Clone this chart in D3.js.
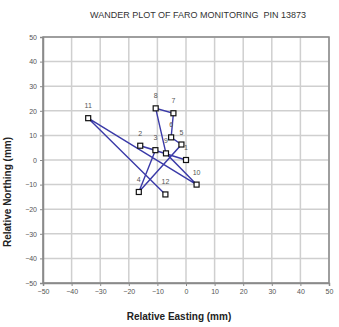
<!DOCTYPE html>
<html>
<head>
<meta charset="utf-8">
<script src="https://cdn.jsdelivr.net/npm/d3@7"></script>
<style>
  body { margin: 0; background: #fff; }
  text { font-family: "Liberation Sans", Arial, sans-serif; }
</style>
</head>
<body>
<div id="chart"></div>
<script>
// readings in order, label = reading number
const pointLabels = ["1", "2", "3", "4", "5", "6", "7", "8", "9", "10", "11", "12"];
const eastings = [0, -16, -10.7, -16.5, -1.6, -5.2, -4.4, -10.6, -7, 3.7, -34.2, -7.2];
const northings = [0, 5.8, 4, -13, 6.3, 9.2, 19, 21, 2.7, -10, 17, -14];
const tickValues = [-50, -40, -30, -20, -10, 0, 10, 20, 30, 40, 50];

const width = 339, height = 327;
const margin = { left: 43, right: 10, top: 37, bottom: 44 };

const svg = d3.select("#chart").append("svg")
    .attr("width", width)
    .attr("height", height);

const x = d3.scaleLinear().domain([-50, 50]).range([margin.left, width - margin.right]);
const y = d3.scaleLinear().domain([-50, 50]).range([height - margin.bottom, margin.top]);

// grid
svg.append("g").selectAll("line")
    .data(tickValues)
    .enter().append("line")
    .attr("x1", d => x(d)).attr("x2", d => x(d))
    .attr("y1", y(-50)).attr("y2", y(50))
    .attr("stroke", "#cfcfcf").attr("stroke-width", 1.5);
svg.append("g").selectAll("line")
    .data(tickValues)
    .enter().append("line")
    .attr("y1", d => y(d)).attr("y2", d => y(d))
    .attr("x1", x(-50)).attr("x2", x(50))
    .attr("stroke", "#cfcfcf").attr("stroke-width", 1.5);

// border
svg.append("rect")
    .attr("x", x(-50)).attr("y", y(50))
    .attr("width", x(50) - x(-50)).attr("height", y(-50) - y(50))
    .attr("fill", "none").attr("stroke", "#8a8a8a").attr("stroke-width", 1.5);

// axes
const xAxis = svg.append("g")
    .attr("transform", `translate(0,${y(-50)})`)
    .call(d3.axisBottom(x).tickValues(tickValues).tickSize(3).tickPadding(3));
const yAxis = svg.append("g")
    .attr("transform", `translate(${x(-50)},0)`)
    .call(d3.axisLeft(y).tickValues(tickValues).tickSize(3).tickPadding(3));
[xAxis, yAxis].forEach(a => {
    a.select(".domain").attr("stroke", "#8a8a8a").attr("stroke-width", 1.5);
    a.selectAll(".tick line").attr("stroke", "#8a8a8a");
    a.selectAll(".tick text")
        .attr("fill", "#555")
        .style("font-size", "7px")
        .style("font-family", "'Liberation Sans', Arial, sans-serif");
});

// wander path
const pts = eastings.map((e, i) => ({ e, n: northings[i], label: pointLabels[i] }));
svg.append("path")
    .datum(pts)
    .attr("fill", "none")
    .attr("stroke", "#3a3aa8")
    .attr("stroke-width", 1.4)
    .attr("d", d3.line().x(d => x(d.e)).y(d => y(d.n)));

// markers
svg.append("g").selectAll("rect")
    .data(pts)
    .enter().append("rect")
    .attr("x", d => x(d.e) - 2.5)
    .attr("y", d => y(d.n) - 2.5)
    .attr("width", 5).attr("height", 5)
    .attr("fill", "#fff")
    .attr("stroke", "#111").attr("stroke-width", 1.2);

// point labels
svg.append("g").selectAll("text")
    .data(pts)
    .enter().append("text")
    .attr("x", d => x(d.e))
    .attr("y", d => y(d.n) - 10)
    .attr("text-anchor", "middle")
    .attr("fill", "#555")
    .style("font-size", "7px")
    .text(d => d.label);

// titles
svg.append("text")
    .attr("x", 198).attr("y", 18)
    .attr("text-anchor", "middle")
    .attr("fill", "#333")
    .style("font-size", "9px")
    .style("white-space", "pre")
    .text("WANDER PLOT OF FARO MONITORING  PIN 13873");

svg.append("text")
    .attr("x", 179).attr("y", 320)
    .attr("text-anchor", "middle")
    .attr("fill", "#222")
    .style("font-size", "10px")
    .style("font-weight", "bold")
    .text("Relative Easting (mm)");

svg.append("text")
    .attr("transform", "translate(11,192) rotate(-90)")
    .attr("text-anchor", "middle")
    .attr("fill", "#222")
    .style("font-size", "10px")
    .style("font-weight", "bold")
    .text("Relative Northing (mm)");
</script>
</body>
</html>
